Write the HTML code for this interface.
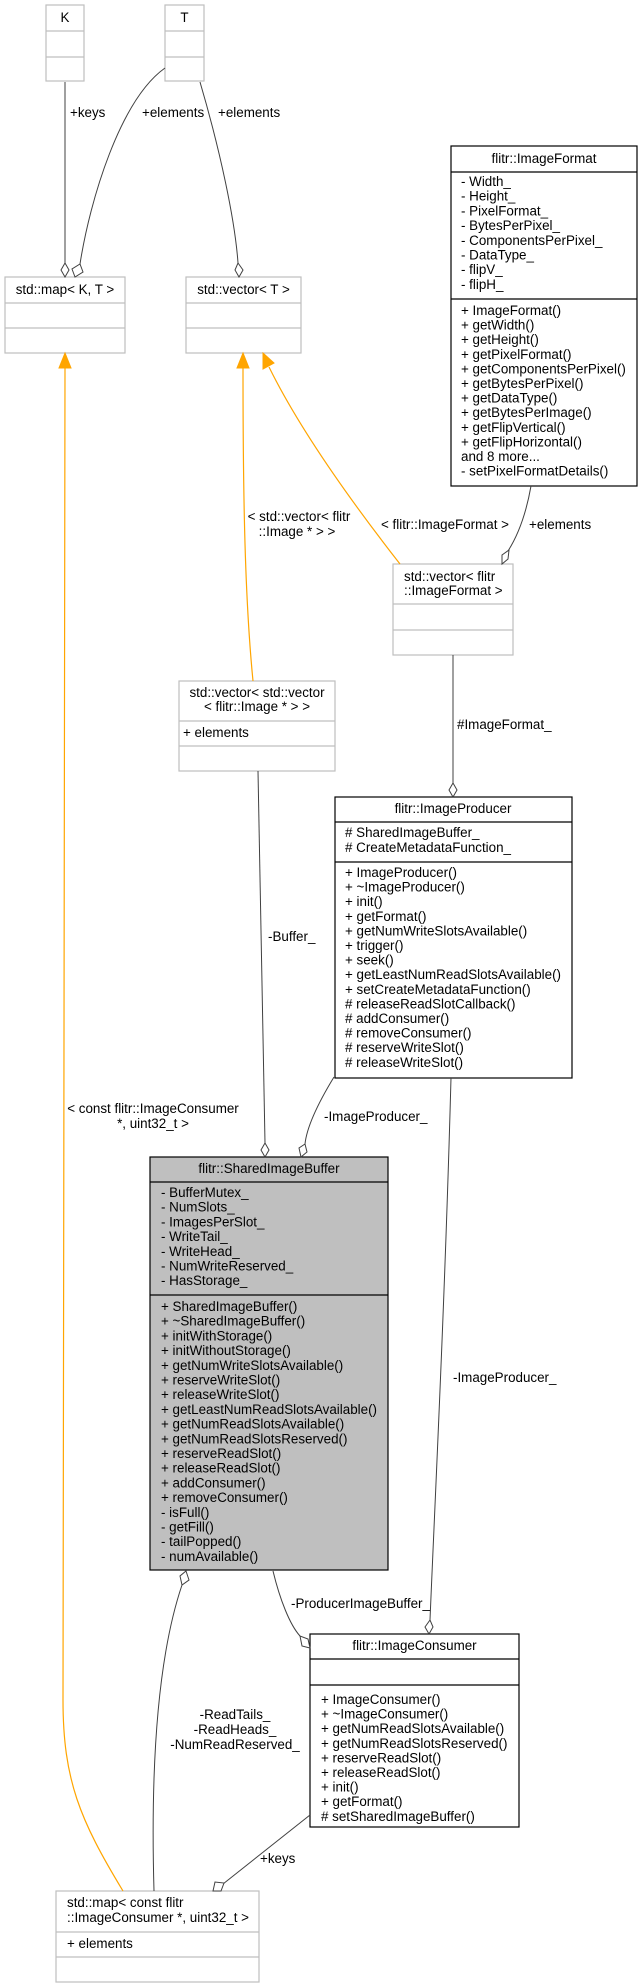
<!DOCTYPE html>
<html><head><meta charset="utf-8"><style>
html,body{margin:0;padding:0;background:#fff;}
svg{display:block;}
text{font-family:"Liberation Sans",Arial,sans-serif;font-size:13.4px;fill:#000;}
.g{fill:#fff;stroke:#bfbfbf;stroke-width:1.2;}
.b{fill:#fff;stroke:#000;stroke-width:1.2;}
.gl{stroke:#bfbfbf;stroke-width:1.2;}
.bl{stroke:#000;stroke-width:1.2;}
.e{fill:none;stroke:#404040;stroke-width:1;}
.o{fill:none;stroke:#ffa500;stroke-width:1.2;}
.d{fill:#fff;stroke:#404040;stroke-width:1;}
.ah{fill:#ffa500;stroke:#ffa500;}
</style></head><body>
<svg width="643" height="1988" viewBox="0 0 643 1988" xmlns="http://www.w3.org/2000/svg">
<!-- K -->
<rect class="g" x="46" y="5" width="38" height="76"/><line class="gl" x1="46" y1="31" x2="84" y2="31"/><line class="gl" x1="46" y1="57" x2="84" y2="57"/>
<text x="65" y="22" text-anchor="middle">K</text>
<!-- T -->
<rect class="g" x="165" y="5" width="39" height="76"/><line class="gl" x1="165" y1="31" x2="204" y2="31"/><line class="gl" x1="165" y1="57" x2="204" y2="57"/>
<text x="184.5" y="22" text-anchor="middle">T</text>
<!-- map<K,T> -->
<rect class="g" x="5" y="277" width="120" height="76"/><line class="gl" x1="5" y1="303" x2="125" y2="303"/><line class="gl" x1="5" y1="328" x2="125" y2="328"/>
<text x="65" y="294" text-anchor="middle">std::map&lt; K, T &gt;</text>
<!-- vector<T> -->
<rect class="g" x="186" y="277" width="115" height="76"/><line class="gl" x1="186" y1="303" x2="301" y2="303"/><line class="gl" x1="186" y1="328" x2="301" y2="328"/>
<text x="243.5" y="294" text-anchor="middle">std::vector&lt; T &gt;</text>
<!-- ImageFormat -->
<rect class="b" x="451" y="146" width="186" height="340"/><line class="bl" x1="451" y1="172" x2="637" y2="172"/><line class="bl" x1="451" y1="299" x2="637" y2="299"/>
<text x="544" y="163" text-anchor="middle">flitr::ImageFormat</text>
<g>
<text x="461" y="186">- Width_</text><text x="461" y="200.7">- Height_</text><text x="461" y="215.4">- PixelFormat_</text><text x="461" y="230.1">- BytesPerPixel_</text><text x="461" y="244.8">- ComponentsPerPixel_</text><text x="461" y="259.5">- DataType_</text><text x="461" y="274.2">- flipV_</text><text x="461" y="288.9">- flipH_</text>
<text x="461" y="315">+ ImageFormat()</text><text x="461" y="329.6">+ getWidth()</text><text x="461" y="344.2">+ getHeight()</text><text x="461" y="358.8">+ getPixelFormat()</text><text x="461" y="373.4">+ getComponentsPerPixel()</text><text x="461" y="388">+ getBytesPerPixel()</text><text x="461" y="402.6">+ getDataType()</text><text x="461" y="417.2">+ getBytesPerImage()</text><text x="461" y="431.8">+ getFlipVertical()</text><text x="461" y="446.4">+ getFlipHorizontal()</text><text x="461" y="461">and 8 more...</text><text x="461" y="475.6">- setPixelFormatDetails()</text>
</g>
<!-- vector<ImageFormat> -->
<rect class="g" x="393" y="564" width="120" height="91"/><line class="gl" x1="393" y1="604" x2="513" y2="604"/><line class="gl" x1="393" y1="630" x2="513" y2="630"/>
<text x="404" y="581">std::vector&lt; flitr</text><text x="404" y="595">::ImageFormat &gt;</text>
<!-- vector<vector> -->
<rect class="g" x="179" y="681" width="156" height="90"/><line class="gl" x1="179" y1="721" x2="335" y2="721"/><line class="gl" x1="179" y1="746" x2="335" y2="746"/>
<text x="257" y="697" text-anchor="middle">std::vector&lt; std::vector</text><text x="257" y="711" text-anchor="middle">&lt; flitr::Image * &gt; &gt;</text>
<text x="183" y="737">+ elements</text>
<!-- ImageProducer -->
<rect class="b" x="335" y="797" width="237" height="281"/><line class="bl" x1="335" y1="822" x2="572" y2="822"/><line class="bl" x1="335" y1="862" x2="572" y2="862"/>
<text x="453" y="813" text-anchor="middle">flitr::ImageProducer</text>
<text x="345" y="837"># SharedImageBuffer_</text><text x="345" y="852"># CreateMetadataFunction_</text>
<text x="345" y="877">+ ImageProducer()</text><text x="345" y="891.6">+ ~ImageProducer()</text><text x="345" y="906.2">+ init()</text><text x="345" y="920.8">+ getFormat()</text><text x="345" y="935.4">+ getNumWriteSlotsAvailable()</text><text x="345" y="950">+ trigger()</text><text x="345" y="964.6">+ seek()</text><text x="345" y="979.2">+ getLeastNumReadSlotsAvailable()</text><text x="345" y="993.8">+ setCreateMetadataFunction()</text><text x="345" y="1008.4"># releaseReadSlotCallback()</text><text x="345" y="1023"># addConsumer()</text><text x="345" y="1037.6"># removeConsumer()</text><text x="345" y="1052.2"># reserveWriteSlot()</text><text x="345" y="1066.8"># releaseWriteSlot()</text>
<!-- SharedImageBuffer -->
<rect x="150" y="1157" width="238" height="413" fill="#bfbfbf" stroke="#000" stroke-width="1.2"/><line class="bl" x1="150" y1="1182" x2="388" y2="1182"/><line class="bl" x1="150" y1="1295" x2="388" y2="1295"/>
<text x="269" y="1173" text-anchor="middle">flitr::SharedImageBuffer</text>
<text x="161" y="1197">- BufferMutex_</text><text x="161" y="1211.7">- NumSlots_</text><text x="161" y="1226.4">- ImagesPerSlot_</text><text x="161" y="1241.1">- WriteTail_</text><text x="161" y="1255.8">- WriteHead_</text><text x="161" y="1270.5">- NumWriteReserved_</text><text x="161" y="1285.2">- HasStorage_</text>
<text x="161" y="1311">+ SharedImageBuffer()</text><text x="161" y="1325.7">+ ~SharedImageBuffer()</text><text x="161" y="1340.4">+ initWithStorage()</text><text x="161" y="1355.1">+ initWithoutStorage()</text><text x="161" y="1369.8">+ getNumWriteSlotsAvailable()</text><text x="161" y="1384.5">+ reserveWriteSlot()</text><text x="161" y="1399.2">+ releaseWriteSlot()</text><text x="161" y="1413.9">+ getLeastNumReadSlotsAvailable()</text><text x="161" y="1428.6">+ getNumReadSlotsAvailable()</text><text x="161" y="1443.3">+ getNumReadSlotsReserved()</text><text x="161" y="1458">+ reserveReadSlot()</text><text x="161" y="1472.7">+ releaseReadSlot()</text><text x="161" y="1487.4">+ addConsumer()</text><text x="161" y="1502.1">+ removeConsumer()</text><text x="161" y="1516.8">- isFull()</text><text x="161" y="1531.5">- getFill()</text><text x="161" y="1546.2">- tailPopped()</text><text x="161" y="1560.9">- numAvailable()</text>
<!-- ImageConsumer -->
<rect class="b" x="310" y="1634" width="209" height="193"/><line class="bl" x1="310" y1="1659" x2="519" y2="1659"/><line class="bl" x1="310" y1="1685" x2="519" y2="1685"/>
<text x="414.5" y="1650" text-anchor="middle">flitr::ImageConsumer</text>
<text x="321" y="1704">+ ImageConsumer()</text><text x="321" y="1718.6">+ ~ImageConsumer()</text><text x="321" y="1733.2">+ getNumReadSlotsAvailable()</text><text x="321" y="1747.8">+ getNumReadSlotsReserved()</text><text x="321" y="1762.4">+ reserveReadSlot()</text><text x="321" y="1777">+ releaseReadSlot()</text><text x="321" y="1791.6">+ init()</text><text x="321" y="1806.2">+ getFormat()</text><text x="321" y="1820.8"># setSharedImageBuffer()</text>
<!-- map const -->
<rect class="g" x="56" y="1891" width="203" height="91"/><line class="gl" x1="56" y1="1932" x2="259" y2="1932"/><line class="gl" x1="56" y1="1957" x2="259" y2="1957"/>
<text x="67" y="1907">std::map&lt; const flitr</text><text x="67" y="1922">::ImageConsumer *, uint32_t &gt;</text>
<text x="67" y="1948">+ elements</text>

<!-- edges -->
<path class="e" d="M65,82 L65,263"/><path class="d" d="M65,277 L61,270 L65,263 L69,270 Z"/>
<path class="e" d="M165,68 C120,100 90,200 80,264"/><path class="d" d="M75,277 L72,269 L80,264 L83,272 Z"/>
<path class="e" d="M200,82 C220,150 235,220 238,263"/><path class="d" d="M239,277 L235,270 L238,263 L243,270 Z"/>
<path class="o" d="M123,1891 C80,1820 63,1780 63,1700 L65,368"/><path class="ah" d="M65,353 L59,368 L71,368 Z"/>
<path class="o" d="M253,681 C245,600 243,500 243,368"/><path class="ah" d="M243,353 L237,368 L249,368 Z"/>
<path class="o" d="M400,564 C350,500 300,430 269,367"/><path class="ah" d="M263,353 L263,369 L274,363 Z"/>
<path class="e" d="M531,486 C525,520 515,540 508,551"/><path class="d" d="M502,564 L502,555 L509,550 L508,559 Z"/>
<path class="e" d="M453,655 L453,783"/><path class="d" d="M453,797 L449,790 L453,783 L457,790 Z"/>
<path class="e" d="M258,771 L265,1143"/><path class="d" d="M265,1157 L261,1150 L265,1143 L269,1150 Z"/>
<path class="e" d="M334,1077 C320,1100 307,1125 305,1144"/><path class="d" d="M301,1157 L299,1148 L305,1144 L307,1152 Z"/>
<path class="e" d="M451,1078 C445,1300 435,1500 430,1620"/><path class="d" d="M429,1634 L425,1627 L430,1620 L433,1627 Z"/>
<path class="e" d="M273,1571 C280,1600 290,1625 300,1636"/><path class="d" d="M310,1648 L302,1646 L300,1636 L308,1639 Z"/>
<path class="e" d="M154,1891 C150,1750 160,1650 182,1585"/><path class="d" d="M186,1571 L189,1580 L182,1585 L180,1576 Z"/>
<path class="e" d="M310,1815 L223,1884"/><path class="d" d="M213,1891 L215,1882 L224,1883 L221,1891 Z"/>

<!-- labels -->
<text x="70" y="117">+keys</text>
<text x="142" y="117">+elements</text>
<text x="218" y="117">+elements</text>
<text x="299" y="521" text-anchor="middle">&lt; std::vector&lt; flitr</text>
<text x="297" y="536" text-anchor="middle">::Image * &gt; &gt;</text>
<text x="445" y="529" text-anchor="middle">&lt; flitr::ImageFormat &gt;</text>
<text x="529" y="529">+elements</text>
<text x="457" y="729">#ImageFormat_</text>
<text x="268" y="941">-Buffer_</text>
<text x="153" y="1113" text-anchor="middle">&lt; const flitr::ImageConsumer</text>
<text x="153" y="1128" text-anchor="middle">*, uint32_t &gt;</text>
<text x="324" y="1121">-ImageProducer_</text>
<text x="453" y="1382">-ImageProducer_</text>
<text x="291" y="1608">-ProducerImageBuffer_</text>
<text x="235" y="1719" text-anchor="middle">-ReadTails_</text>
<text x="235" y="1734" text-anchor="middle">-ReadHeads_</text>
<text x="235" y="1749" text-anchor="middle">-NumReadReserved_</text>
<text x="260" y="1863">+keys</text>
</svg>
</body></html>
